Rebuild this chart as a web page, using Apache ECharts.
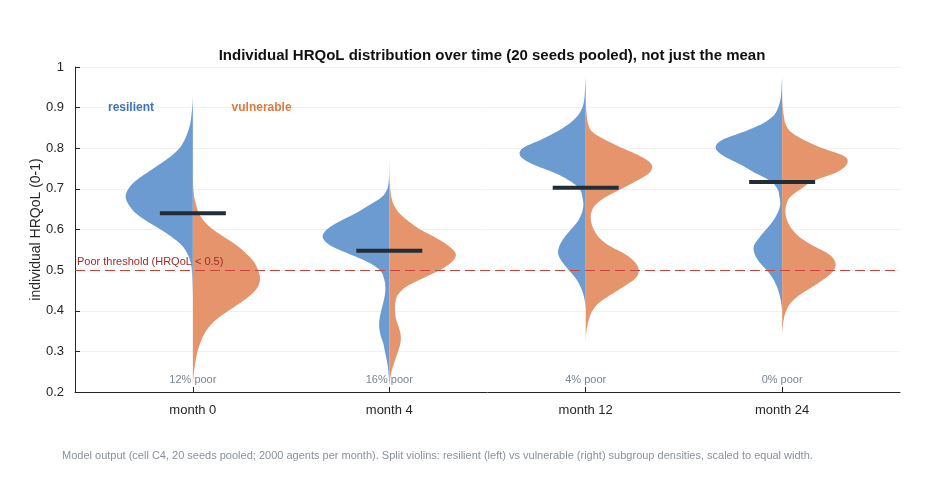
<!DOCTYPE html>
<html>
<head>
<meta charset="utf-8">
<script src="https://cdn.jsdelivr.net/npm/echarts@6/dist/echarts.min.js"></script>
<style>
  html, body { margin: 0; padding: 0; background: #fff; }
  #chart { width: 938px; height: 479px; }
</style>
</head>
<body>
<div id="chart"></div>
<script>
// HRQoL levels where the densities were read (top to bottom)
const hrqolGrid = [0.98, 0.96, 0.94, 0.92, 0.90, 0.88, 0.86, 0.84, 0.82, 0.80,
  0.78, 0.76, 0.74, 0.72, 0.70, 0.68, 0.66, 0.64, 0.62, 0.60,
  0.58, 0.56, 0.54, 0.52, 0.50, 0.48, 0.46, 0.44, 0.42, 0.40,
  0.38, 0.36, 0.34, 0.32, 0.30, 0.28, 0.26, 0.24, 0.22];

const months = ['month 0', 'month 4', 'month 12', 'month 24'];

// scaled densities (max = 1) per subgroup and month
const resilientM0 = [0, 0, 0, 0.002, 0.01, 0.022, 0.04, 0.075, 0.125, 0.2,
  0.33, 0.5, 0.68, 0.85, 0.96, 1.0, 0.95, 0.85, 0.68, 0.48,
  0.3, 0.16, 0.08, 0.035, 0.015, 0.008, 0.004, 0.001, 0, 0,
  0, 0, 0, 0, 0, 0, 0, 0, 0];
const vulnerableM0 = [0, 0, 0, 0, 0, 0, 0, 0, 0, 0,
  0, 0, 0.001, 0.003, 0.008, 0.02, 0.05, 0.09, 0.17, 0.3,
  0.48, 0.66, 0.8, 0.91, 0.97, 1.0, 0.97, 0.87, 0.71, 0.53,
  0.36, 0.24, 0.16, 0.11, 0.07, 0.045, 0.025, 0.01, 0.002];
const resilientM4 = [0, 0, 0, 0, 0, 0, 0, 0, 0, 0,
  0, 0.001, 0.002, 0.008, 0.03, 0.11, 0.3, 0.5, 0.74, 0.93,
  0.99, 0.87, 0.6, 0.32, 0.14, 0.08, 0.06, 0.065, 0.09, 0.12,
  0.145, 0.15, 0.13, 0.09, 0.065, 0.04, 0.02, 0.008, 0];
const vulnerableM4 = [0, 0, 0, 0, 0, 0, 0, 0, 0, 0,
  0, 0.001, 0.002, 0.006, 0.015, 0.03, 0.07, 0.15, 0.29, 0.46,
  0.69, 0.88, 0.99, 0.93, 0.75, 0.5, 0.26, 0.13, 0.09, 0.085,
  0.1, 0.14, 0.17, 0.165, 0.13, 0.09, 0.05, 0.02, 0.005];
const resilientM12 = [0, 0.005, 0.012, 0.022, 0.05, 0.12, 0.25, 0.44, 0.68, 0.94,
  0.97, 0.78, 0.47, 0.24, 0.09, 0.05, 0.035, 0.06, 0.12, 0.22,
  0.32, 0.39, 0.41, 0.35, 0.25, 0.15, 0.08, 0.035, 0.01, 0,
  0, 0, 0, 0, 0, 0, 0, 0, 0];
const vulnerableM12 = [0, 0, 0, 0.002, 0.006, 0.015, 0.035, 0.1, 0.3, 0.55,
  0.82, 0.98, 0.95, 0.76, 0.53, 0.3, 0.14, 0.08, 0.08, 0.12,
  0.2, 0.35, 0.58, 0.73, 0.79, 0.74, 0.57, 0.38, 0.2, 0.1,
  0.05, 0.02, 0.005, 0, 0, 0, 0, 0, 0];
const resilientM24 = [0, 0.005, 0.012, 0.025, 0.06, 0.13, 0.3, 0.58, 0.9, 0.99,
  0.86, 0.62, 0.41, 0.18, 0.07, 0.04, 0.03, 0.07, 0.14, 0.24,
  0.34, 0.42, 0.41, 0.34, 0.23, 0.14, 0.08, 0.04, 0.015, 0,
  0, 0, 0, 0, 0, 0, 0, 0, 0];
const vulnerableM24 = [0, 0, 0, 0.002, 0.01, 0.025, 0.05, 0.13, 0.33, 0.6,
  0.93, 0.96, 0.8, 0.47, 0.28, 0.12, 0.06, 0.05, 0.08, 0.15,
  0.27, 0.46, 0.69, 0.79, 0.77, 0.64, 0.46, 0.27, 0.13, 0.06,
  0.025, 0.008, 0, 0, 0, 0, 0, 0, 0];

const meanHrqol = [0.64, 0.548, 0.703, 0.717];
const poorPct = [12, 16, 4, 0];
const poorThreshold = 0.5;

const resilientDens = [resilientM0, resilientM4, resilientM12, resilientM24];
const vulnerableDens = [vulnerableM0, vulnerableM4, vulnerableM12, vulnerableM24];

const BLUE = '#6b9bd0';
const ORANGE = '#e5946c';
const FONT = "'Liberation Sans', Arial, sans-serif";
const violinHalf = 0.342;   // x units for density 1
const meanHalf = 0.168;
const SUB = 6;              // drawing subdivisions between read points

// Catmull-Rom pass through the read densities, only to draw a smooth outline
const smoothOutline = (dens) => {
  const out = [];
  const n = dens.length;
  for (let k = 0; k < n - 1; k++) {
    const p0 = dens[Math.max(k - 1, 0)], p1 = dens[k], p2 = dens[k + 1], p3 = dens[Math.min(k + 2, n - 1)];
    const y1 = hrqolGrid[k], y2 = hrqolGrid[k + 1];
    for (let s = 0; s < SUB; s++) {
      const t = s / SUB;
      const d = 0.5 * (2 * p1 + (-p0 + p2) * t + (2 * p0 - 5 * p1 + 4 * p2 - p3) * t * t +
        (-p0 + 3 * p1 - 3 * p2 + p3) * t * t * t);
      out.push([Math.max(d, 0), y1 + (y2 - y1) * t]);
    }
  }
  out.push([dens[n - 1], hrqolGrid[n - 1]]);
  return out;
};

const halfViolin = (api, center, dens, side, color) => {
  const pts = smoothOutline(dens).map(([d, y]) => api.coord([center + side * violinHalf * d, y]));
  pts.push(api.coord([center, hrqolGrid[hrqolGrid.length - 1]]));
  pts.push(api.coord([center, hrqolGrid[0]]));
  return { type: 'polygon', shape: { points: pts }, style: { fill: color } };
};

const chart = echarts.init(document.getElementById('chart'), null, { renderer: 'canvas' });

const option = {
  animation: false,
  textStyle: { fontFamily: FONT },
  title: [
    {
      text: 'Individual HRQoL distribution over time (20 seeds pooled), not just the mean',
      left: 487, top: 43, textAlign: 'center',
      textStyle: { fontSize: 15, fontWeight: 'bold', color: '#111', fontFamily: FONT }
    },
    {
      text: 'Model output (cell C4, 20 seeds pooled; 2000 agents per month). Split violins: resilient (left) vs vulnerable (right) subgroup densities, scaled to equal width.',
      left: 62, top: 450, padding: 0,
      textStyle: { fontSize: 11, fontWeight: 'normal', color: '#8a919b', fontFamily: FONT }
    }
  ],
  grid: { left: 75, right: 38, top: 67, bottom: 87 },
  xAxis: {
    type: 'value', min: -0.6, max: 3.6,
    axisLine: { show: true, onZero: false, lineStyle: { color: '#262626', width: 1 } },
    axisTick: { show: true, inside: true, length: 5, customValues: [0, 1, 2, 3], lineStyle: { color: '#262626' } },
    axisLabel: {
      customValues: [0, 1, 2, 3], formatter: (v) => months[Math.round(v)],
      color: '#262626', fontSize: 13, margin: 12, fontFamily: FONT
    },
    splitLine: { show: false }
  },
  yAxis: {
    type: 'value', min: 0.2, max: 1, interval: 0.1,
    name: 'individual HRQoL (0-1)', nameLocation: 'middle', nameGap: 32, nameMoveOverlap: false,
    nameTextStyle: { fontSize: 14, color: '#262626', fontFamily: FONT },
    axisLine: { show: true, onZero: false, lineStyle: { color: '#262626', width: 1 } },
    axisTick: { show: true, inside: true, length: 5, lineStyle: { color: '#262626' } },
    axisLabel: {
      formatter: (v) => (Math.abs(v - 1) < 1e-9 ? '1' : v.toFixed(1)),
      color: '#262626', fontSize: 13, margin: 11, fontFamily: FONT
    },
    splitLine: { show: true, lineStyle: { color: '#f1f1f1', width: 1 } }
  },
  series: [
    {
      // threshold line sits below the violins
      type: 'line', data: [], z: 1,
      markLine: {
        silent: true, symbol: 'none',
        lineStyle: { color: '#c9433d', type: [10, 5], width: 1 },
        label: { show: false },
        data: [{ yAxis: poorThreshold }]
      }
    },
    {
      type: 'custom', z: 2,
      data: months.map((m, i) => [i]),
      renderItem: (params, api) => {
        const i = api.value(0);
        return {
          type: 'group',
          children: [
            halfViolin(api, i, resilientDens[i], -1, BLUE),
            halfViolin(api, i, vulnerableDens[i], 1, ORANGE)
          ]
        };
      }
    },
    {
      type: 'custom', z: 3,
      data: meanHrqol.map((v, i) => [i, v]),
      renderItem: (params, api) => {
        const i = api.value(0);
        const y = api.value(1);
        const p1 = api.coord([i - meanHalf, y]);
        const p2 = api.coord([i + meanHalf, y]);
        return {
          type: 'line',
          shape: { x1: p1[0], y1: p1[1], x2: p2[0], y2: p2[1] },
          style: { stroke: '#232d38', lineWidth: 4 }
        };
      }
    },
    {
      type: 'custom', z: 4,
      data: poorPct.map((v, i) => [i, v]),
      renderItem: (params, api) => {
        const p = api.coord([api.value(0), 0.23]);
        return {
          type: 'text', x: p[0], y: p[1],
          style: {
            text: api.value(1) + '% poor', fill: '#7b8592', fontSize: 11,
            fontFamily: FONT, align: 'center', verticalAlign: 'middle'
          }
        };
      }
    },
    {
      // annotations: subgroup names and threshold label
      type: 'custom', z: 5,
      data: [[-0.315, 0.9, 0], [0.35, 0.9, 1], [-0.59, 0.52, 2]],
      renderItem: (params, api) => {
        const p = api.coord([api.value(0), api.value(1)]);
        const k = api.value(2);
        const styles = [
          { text: 'resilient', fill: '#3d73bf', fontWeight: 'bold', fontSize: 12, align: 'center' },
          { text: 'vulnerable', fill: '#e07a40', fontWeight: 'bold', fontSize: 12, align: 'center' },
          { text: 'Poor threshold (HRQoL < 0.5)', fill: '#a52a2a', fontWeight: 'normal', fontSize: 11, align: 'left' }
        ];
        return {
          type: 'text', x: p[0], y: p[1],
          style: Object.assign({ fontFamily: FONT, verticalAlign: 'middle' }, styles[k])
        };
      }
    }
  ]
};

chart.setOption(option);
</script>
</body>
</html>
